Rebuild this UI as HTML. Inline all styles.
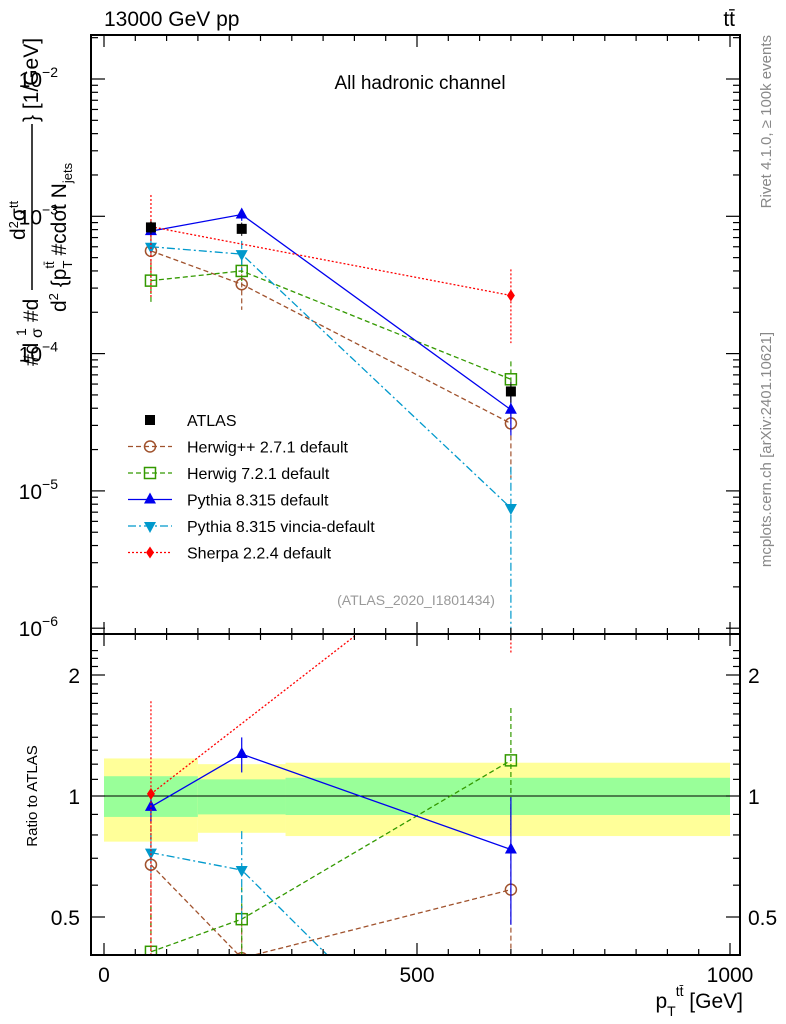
<!DOCTYPE html>
<html><head><meta charset="utf-8">
<style>
body{margin:0;background:#fff;overflow:hidden;}
svg{display:block;font-family:"Liberation Sans",Arial,sans-serif;}
</style></head>
<body>
<svg id="c" width="786" height="1024" viewBox="0 0 786 1024"></svg>
<script>
const xCenters=[75,220,650];
const atlas=[8.3e-4,8.1e-4,5.3e-5];
const atlasErr=[0.9e-4,0.9e-4,0.9e-5];
const herwigpp=[5.6e-4,3.2e-4,3.1e-5];
const herwig7=[3.4e-4,4.0e-4,6.5e-5];
const pythia=[7.8e-4,1.03e-3,3.9e-5];
const vincia=[6.0e-4,5.3e-4,7.5e-6];
const sherpaX=[75,650];
const sherpa=[8.4e-4,2.65e-4];
const herwigppErr=[0.3,0.35,0.6];
const herwig7Err=[0.3,0.2,0.35];
const pythiaErr=[0.08,0.1,0.35];
const vinciaErr=[0.12,0.25,1.0];
const sherpaErr=[0.7,0.55];
const bandEdges=[0,150,290,1000];
const yellowUp=[1.24,1.20,1.21];
const yellowDn=[0.77,0.81,0.795];
const greenUp=[1.12,1.10,1.11];
const greenDn=[0.887,0.90,0.897];
const xTicks=[0,500,1000];
const yTicksMain=[-2,-3,-4,-5,-6];
const yTicksRatio=[0.5,1,2];

const S=document.getElementById('c');const NS='http://www.w3.org/2000/svg';
function el(t,a,p){const e=document.createElementNS(NS,t);for(const k in a)e.setAttribute(k,a[k]);(p||S).appendChild(e);return e;}
const L=91,R=740,T=35,M=634,B=955;
const X=v=>104+v*0.626;
const Y=v=>79+(-2-Math.log10(v))*137.3;
const YR=r=>796-Math.log2(r)*121;
const gb=el('g',{});
for(let i=0;i<3;i++){
 const x0=X(bandEdges[i]),w=X(bandEdges[i+1])-x0;
 el('rect',{x:x0,y:YR(yellowUp[i]),width:w,height:YR(yellowDn[i])-YR(yellowUp[i]),fill:'#ffff99'},gb);
 el('rect',{x:x0,y:YR(greenUp[i]),width:w,height:YR(greenDn[i])-YR(greenUp[i]),fill:'#99ff99'},gb);
}
el('line',{x1:L,x2:R,y1:YR(1),y2:YR(1),stroke:'#000','stroke-width':1});
const defs=el('defs',{});
const c1=el('clipPath',{id:'cm'},defs);el('rect',{x:L,y:T,width:R-L,height:M-T},c1);
const c2=el('clipPath',{id:'cr'},defs);el('rect',{x:L,y:M,width:R-L,height:B-M},c2);
function marker(g,type,x,y,col){
 if(type=='sq')el('rect',{x:x-5,y:y-5,width:10,height:10,fill:col},g);
 else if(type=='osq')el('rect',{x:x-5.5,y:y-5.5,width:11,height:11,fill:'#fff','fill-opacity':0,stroke:col,'stroke-width':1.5},g);
 else if(type=='oc')el('circle',{cx:x,cy:y,r:5.5,fill:'none',stroke:col,'stroke-width':1.5},g);
 else if(type=='tu')el('path',{d:`M${x} ${y-7}L${x+6} ${y+4}L${x-6} ${y+4}Z`,fill:col},g);
 else if(type=='td')el('path',{d:`M${x} ${y+7}L${x+6} ${y-4}L${x-6} ${y-4}Z`,fill:col},g);
 else if(type=='di')el('path',{d:`M${x} ${y-6}L${x+4} ${y}L${x} ${y+6}L${x-4} ${y}Z`,fill:col},g);
}
const series=[
 {n:'herwigpp',xs:xCenters,v:herwigpp,col:'#a0522d',dash:'5,3',m:'oc',e:herwigppErr},
 {n:'herwig7',xs:xCenters,v:herwig7,col:'#339900',dash:'5,3',m:'osq',e:herwig7Err},
 {n:'pythia',xs:xCenters,v:pythia,col:'#0000ee',dash:'',m:'tu',e:pythiaErr},
 {n:'vincia',xs:xCenters,v:vincia,col:'#0099cc',dash:'8,3,2,3',m:'td',e:vinciaErr},
 {n:'sherpa',xs:sherpaX,v:sherpa,col:'#ff0000',dash:'2,2',m:'di',e:sherpaErr},
];
series.forEach(s=>{
 const gm=el('g',{'clip-path':'url(#cm)'});
 const gr=el('g',{'clip-path':'url(#cr)'});
 const ratios=s.v.map((v,i)=>v/atlas[xCenters.indexOf(s.xs[i])]);
 el('polyline',{points:s.xs.map((x,i)=>X(x)+','+Y(s.v[i])).join(' '),fill:'none',stroke:s.col,'stroke-width':1.3,'stroke-dasharray':s.dash},gm);
 el('polyline',{points:s.xs.map((x,i)=>X(x)+','+YR(ratios[i])).join(' '),fill:'none',stroke:s.col,'stroke-width':1.3,'stroke-dasharray':s.dash},gr);
 s.xs.forEach((x,i)=>{
  const px=X(x),v=s.v[i],r=ratios[i],e=s.e[i];
  el('line',{x1:px,x2:px,y1:Y(v*(1+e)),y2:Y(Math.max(v*(1-e),1e-9)),stroke:s.col,'stroke-width':1.2,'stroke-dasharray':s.dash},gm);
  el('line',{x1:px,x2:px,y1:YR(r*(1+e)),y2:YR(Math.max(r*(1-e),0.01)),stroke:s.col,'stroke-width':1.2,'stroke-dasharray':s.dash},gr);
  marker(gm,s.m,px,Y(v),s.col);marker(gr,s.m,px,YR(r),s.col);
 });
});
const ga=el('g',{'clip-path':'url(#cm)'});
xCenters.forEach((x,i)=>{el('line',{x1:X(x),x2:X(x),y1:Y(atlas[i]+atlasErr[i]),y2:Y(atlas[i]-atlasErr[i]),stroke:'#000'},ga);marker(ga,'sq',X(x),Y(atlas[i]),'#000');});
el('rect',{x:L,y:T,width:R-L,height:M-T,fill:'none',stroke:'#000','stroke-width':2});
el('rect',{x:L,y:M,width:R-L,height:B-M,fill:'none',stroke:'#000','stroke-width':2});
for(let v=0;v<=1000;v+=50){const len=v%500==0?12:6;
 [[T,1],[M,1],[M,-1],[B,-1]].forEach(([y0,d])=>{el('line',{x1:X(v),x2:X(v),y1:y0,y2:y0+d*len,stroke:'#000','stroke-width':1.2});});}
xTicks.forEach(v=>{const t=el('text',{x:X(v),y:982,'font-size':21,'text-anchor':'middle'});t.textContent=v;});
for(let d=-6;d<=-2;d++){for(let k=1;k<10;k++){const v=k*Math.pow(10,d);const y=Y(v);if(y<T||y>M)continue;const len=k==1?14:7;
 el('line',{x1:L,x2:L+len,y1:y,y2:y,stroke:'#000','stroke-width':1.2});el('line',{x1:R,x2:R-len,y1:y,y2:y,stroke:'#000','stroke-width':1.2});}}
yTicksMain.forEach(d=>{const t=el('text',{x:58,y:Y(Math.pow(10,d))+8,'font-size':21,'text-anchor':'end'});t.innerHTML='10<tspan font-size="14" dy="-10">−'+(-d)+'</tspan>';});
[0.4,0.5,0.6,0.7,0.8,0.9,1,1.1,1.2,1.3,1.4,1.5,1.6,1.7,1.8,1.9,2,2.1,2.2,2.3].forEach(r=>{const y=YR(r);if(y<M||y>B)return;const len=(r==0.5||r==1||r==2)?14:7;
 el('line',{x1:L,x2:L+len,y1:y,y2:y,stroke:'#000','stroke-width':1.2});el('line',{x1:R,x2:R-len,y1:y,y2:y,stroke:'#000','stroke-width':1.2});});
yTicksRatio.forEach(r=>{[[80,'end'],[748,'start']].forEach(([x,a])=>{const t=el('text',{x:x,y:YR(r)+8,'font-size':21,'text-anchor':a});t.textContent=r;});});
const leg=[['ATLAS','#000','','sq'],['Herwig++ 2.7.1 default','#a0522d','5,3','oc'],['Herwig 7.2.1 default','#339900','5,3','osq'],['Pythia 8.315 default','#0000ee','','tu'],['Pythia 8.315 vincia-default','#0099cc','8,3,2,3','td'],['Sherpa 2.2.4 default','#ff0000','2,2','di']];
leg.forEach((l,i)=>{const g=el('g',{});const y=420+i*26.5;
 if(i>0)el('line',{x1:128,x2:172,y1:y,y2:y,stroke:l[1],'stroke-width':1.3,'stroke-dasharray':l[2]},g);
 marker(g,l[3],150,y,l[1]);const t=el('text',{x:187,y:y+6,'font-size':16},g);t.textContent=l[0];});
function txt(s,a,n){const t=el('text',a);t.innerHTML=s;return t;}
txt('13000 GeV pp',{x:104,y:26,'font-size':21},'energy-label');
txt('tt̄',{x:735,y:26,'font-size':21,'text-anchor':'end'},'process-label');
txt('All hadronic channel',{x:420,y:89,'font-size':19,'text-anchor':'middle'},'channel-label');
txt('(ATLAS_2020_I1801434)',{x:416,y:605,'font-size':14,fill:'#999','text-anchor':'middle'},'analysis-id');
txt('Rivet 4.1.0, ≥ 100k events',{x:0,y:0,'font-size':15,fill:'#888','text-anchor':'end',transform:'translate(771,35) rotate(-90)'},'rivet-label');
txt('mcplots.cern.ch [arXiv:2401.10621]',{x:0,y:0,'font-size':15,fill:'#888','text-anchor':'end',transform:'translate(771,332) rotate(-90)'},'mcplots-label');
txt('Ratio to ATLAS',{x:0,y:0,'font-size':15,'text-anchor':'middle',transform:'translate(37,796) rotate(-90)'},'ratio-axis-title');
const yt=el('g',{});
el('text',{x:0,y:0,'font-size':21,transform:'translate(38,366) rotate(-90)'},yt).textContent='#d';
el('text',{x:0,y:0,'font-size':14,transform:'translate(26,336) rotate(-90)'},yt).textContent='1';
el('text',{x:0,y:0,'font-size':16,transform:'translate(42,338) rotate(-90)'},yt).textContent='σ';
el('text',{x:0,y:0,'font-size':21,transform:'translate(38,322) rotate(-90)'},yt).textContent='#d';
el('line',{x1:32,x2:32,y1:290,y2:124,stroke:'#000','stroke-width':1.5},yt);
el('text',{x:0,y:0,'font-size':21,transform:'translate(25,240) rotate(-90)'},yt).innerHTML='d<tspan font-size="13" dy="-7">2</tspan><tspan dy="7">σ</tspan><tspan font-size="13" dy="-7">tt</tspan>';
el('text',{x:0,y:0,'font-size':21,transform:'translate(38,122) rotate(-90)'},yt).textContent='} [1/GeV]';
el('text',{x:0,y:0,'font-size':21,transform:'translate(66,312) rotate(-90)'},yt).innerHTML='d<tspan font-size="13" dy="-8">2</tspan><tspan dy="8"> {p</tspan><tspan font-size="13" dy="6">T</tspan><tspan font-size="13" dx="-8" dy="-18">tt̄</tspan><tspan dy="12"> #cdot N</tspan><tspan font-size="13" dy="6">jets</tspan>';
txt('p<tspan font-size="14" dy="8">T</tspan><tspan font-size="14" dy="-20">tt̄</tspan><tspan dy="12"> [GeV]</tspan>',{x:743,y:1008,'font-size':21,'text-anchor':'end'},'x-axis-title');
</script>
</body></html>
